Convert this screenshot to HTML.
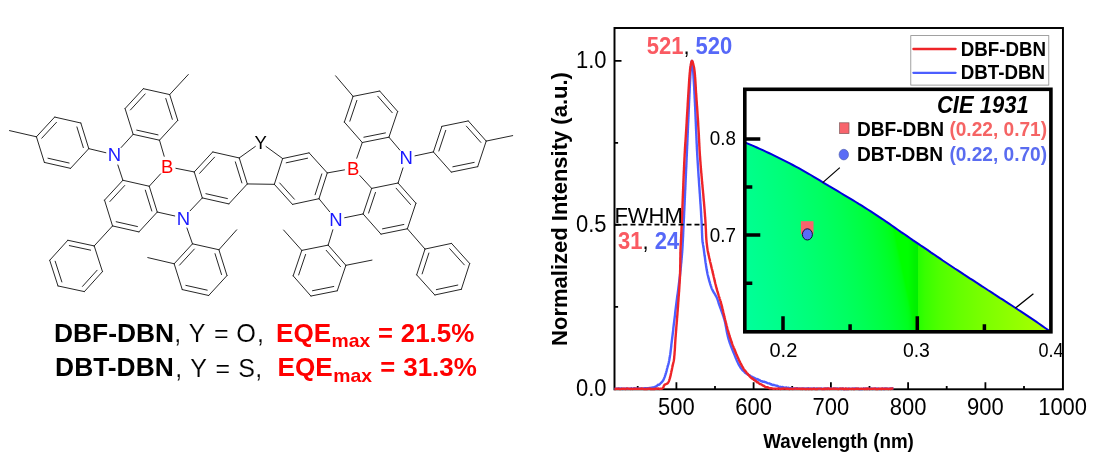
<!DOCTYPE html>
<html><head><meta charset="utf-8"><title>DBF-DBN / DBT-DBN</title>
<style>html,body{margin:0;padding:0;background:#fff}svg{display:block;will-change:transform}text{font-family:"Liberation Sans",sans-serif}</style></head><body>
<svg width="1094" height="464" viewBox="0 0 1094 464">
<rect width="1094" height="464" fill="#fff"/>
<g stroke="#222" stroke-width="0.98" stroke-linecap="round" fill="none">
<path d="M88.78 148.65L80.83 123.01"/>
<path d="M83.33 147.62L76.92 126.94"/>
<path d="M80.83 123.01L54.64 117.07"/>
<path d="M54.64 117.07L36.42 136.78"/>
<path d="M56.48 122.31L41.78 138.20"/>
<path d="M36.42 136.78L44.37 162.43"/>
<path d="M44.37 162.43L70.56 168.36"/>
<path d="M47.99 158.22L69.10 163.01"/>
<path d="M70.56 168.36L88.78 148.65"/>
<path d="M133.15 134.34L125.06 108.57"/>
<path d="M125.06 108.57L143.33 88.69"/>
<path d="M130.43 109.97L145.18 93.92"/>
<path d="M143.33 88.69L169.69 94.56"/>
<path d="M169.69 94.56L177.77 120.33"/>
<path d="M165.79 98.51L172.32 119.32"/>
<path d="M177.77 120.33L159.50 140.21"/>
<path d="M159.50 140.21L133.15 134.34"/>
<path d="M158.03 134.87L136.75 130.12"/>
<path d="M122.88 180.27L149.25 186.23"/>
<path d="M149.25 186.23L157.27 212.05"/>
<path d="M145.34 190.17L151.82 211.02"/>
<path d="M157.27 212.05L138.92 231.90"/>
<path d="M138.92 231.90L112.55 225.94"/>
<path d="M137.46 226.55L116.17 221.73"/>
<path d="M112.55 225.94L104.53 200.12"/>
<path d="M104.53 200.12L122.88 180.27"/>
<path d="M109.89 201.54L124.71 185.50"/>
<path d="M194.25 171.94L212.71 151.96"/>
<path d="M199.61 173.35L214.54 157.19"/>
<path d="M212.71 151.96L239.24 157.95"/>
<path d="M239.24 157.95L247.32 183.93"/>
<path d="M235.34 161.89L241.87 182.90"/>
<path d="M247.32 183.93L228.86 203.91"/>
<path d="M228.86 203.91L202.32 197.92"/>
<path d="M227.40 198.56L205.94 193.71"/>
<path d="M202.32 197.92L194.25 171.94"/>
<path d="M94.20 245.92L67.82 240.25"/>
<path d="M90.63 250.16L69.33 245.59"/>
<path d="M67.82 240.25L49.72 260.27"/>
<path d="M49.72 260.27L58.00 285.95"/>
<path d="M55.18 261.24L61.87 281.97"/>
<path d="M58.00 285.95L84.38 291.61"/>
<path d="M84.38 291.61L102.48 271.60"/>
<path d="M82.49 286.40L97.10 270.24"/>
<path d="M102.48 271.60L94.20 245.92"/>
<path d="M192.49 243.83L218.91 249.74"/>
<path d="M218.91 249.74L227.01 275.57"/>
<path d="M215.01 253.68L221.55 274.56"/>
<path d="M227.01 275.57L208.68 295.50"/>
<path d="M208.68 295.50L182.26 289.60"/>
<path d="M207.21 290.15L185.86 285.38"/>
<path d="M182.26 289.60L174.16 263.76"/>
<path d="M174.16 263.76L192.49 243.83"/>
<path d="M179.53 265.16L194.33 249.06"/>
<path d="M327.27 172.94L309.10 152.86"/>
<path d="M309.10 152.86L282.63 158.56"/>
<path d="M307.59 158.20L286.21 162.80"/>
<path d="M282.63 158.56L274.33 184.33"/>
<path d="M274.33 184.33L292.50 204.40"/>
<path d="M279.71 182.97L294.39 199.19"/>
<path d="M292.50 204.40L318.97 198.71"/>
<path d="M318.97 198.71L327.27 172.94"/>
<path d="M315.10 194.73L321.81 173.91"/>
<path d="M388.94 137.19L397.64 111.45"/>
<path d="M397.64 111.45L379.71 91.04"/>
<path d="M392.25 112.73L377.74 96.23"/>
<path d="M379.71 91.04L353.06 96.37"/>
<path d="M353.06 96.37L344.36 122.11"/>
<path d="M356.87 100.41L349.83 121.22"/>
<path d="M344.36 122.11L362.29 142.52"/>
<path d="M362.29 142.52L388.94 137.19"/>
<path d="M363.88 137.21L385.43 132.90"/>
<path d="M433.39 151.94L441.89 126.35"/>
<path d="M438.86 151.02L445.72 130.37"/>
<path d="M441.89 126.35L468.31 120.93"/>
<path d="M468.31 120.93L486.21 141.09"/>
<path d="M466.37 126.13L480.82 142.40"/>
<path d="M486.21 141.09L477.71 166.68"/>
<path d="M477.71 166.68L451.29 172.11"/>
<path d="M474.17 162.40L452.85 166.78"/>
<path d="M451.29 172.11L433.39 151.94"/>
<path d="M398.07 183.03L371.66 188.40"/>
<path d="M371.66 188.40L363.11 213.96"/>
<path d="M375.48 192.42L368.58 213.05"/>
<path d="M363.11 213.96L380.97 234.14"/>
<path d="M380.97 234.14L407.38 228.77"/>
<path d="M382.54 228.82L403.85 224.48"/>
<path d="M407.38 228.77L415.93 203.21"/>
<path d="M415.93 203.21L398.07 183.03"/>
<path d="M410.53 204.51L396.12 188.22"/>
<path d="M328.16 245.12L301.80 250.39"/>
<path d="M301.80 250.39L293.17 275.85"/>
<path d="M305.60 254.42L298.65 274.96"/>
<path d="M293.17 275.85L310.91 296.04"/>
<path d="M310.91 296.04L337.27 290.78"/>
<path d="M312.50 290.73L333.76 286.48"/>
<path d="M337.27 290.78L345.89 265.32"/>
<path d="M345.89 265.32L328.16 245.12"/>
<path d="M340.50 266.60L326.19 250.31"/>
<path d="M425.02 249.06L451.53 243.39"/>
<path d="M451.53 243.39L469.69 263.52"/>
<path d="M449.64 248.60L464.31 264.87"/>
<path d="M469.69 263.52L461.35 289.31"/>
<path d="M461.35 289.31L434.83 294.98"/>
<path d="M457.78 285.06L436.35 289.64"/>
<path d="M434.83 294.98L416.67 274.85"/>
<path d="M416.67 274.85L425.02 249.06"/>
<path d="M422.13 273.88L428.88 253.04"/>
<path d="M9.50 130.60L36.42 136.78"/>
<path d="M88.78 148.65L105.86 152.73"/>
<path d="M121.11 147.54L133.15 134.34"/>
<path d="M117.85 164.97L122.88 180.27"/>
<path d="M169.69 94.56L188.30 74.50"/>
<path d="M159.50 140.21L164.19 156.27"/>
<path d="M160.58 173.84L149.25 186.23"/>
<path d="M175.89 168.32L194.25 171.94"/>
<path d="M157.27 212.05L174.74 215.96"/>
<path d="M190.12 210.80L202.32 197.92"/>
<path d="M186.93 227.98L192.49 243.83"/>
<path d="M112.55 225.94L94.20 245.92"/>
<path d="M218.91 249.74L236.70 229.80"/>
<path d="M174.16 263.76L147.80 257.60"/>
<path d="M239.24 157.95L255.36 146.42"/>
<path d="M266.01 146.47L282.63 158.56"/>
<path d="M247.32 183.93L274.33 184.33"/>
<path d="M512.70 135.60L486.21 141.09"/>
<path d="M433.39 151.94L414.98 155.86"/>
<path d="M399.90 150.14L388.94 137.19"/>
<path d="M402.99 167.89L398.07 183.03"/>
<path d="M353.06 96.37L335.60 75.80"/>
<path d="M362.29 142.52L356.75 158.24"/>
<path d="M359.83 175.53L371.66 188.40"/>
<path d="M344.49 169.86L327.27 172.94"/>
<path d="M363.11 213.96L344.68 217.72"/>
<path d="M329.70 211.81L318.97 198.71"/>
<path d="M332.85 229.77L328.16 245.12"/>
<path d="M407.38 228.77L425.02 249.06"/>
<path d="M301.80 250.39L283.60 230.00"/>
<path d="M345.89 265.32L372.00 260.10"/>
</g>
<g font-size="18.5" text-anchor="middle">
<text x="114.5" y="161.4" fill="#1a1aff">N</text>
<text x="183.4" y="224.5" fill="#1a1aff">N</text>
<text x="406.3" y="164.3" fill="#1a1aff">N</text>
<text x="336.0" y="226.1" fill="#1a1aff">N</text>
<text x="167.2" y="173.2" fill="#ff0000">B</text>
<text x="353.2" y="174.9" fill="#ff0000">B</text>
<text x="260.7" y="149.2" fill="#000">Y</text>
</g>
<text x="54.0" y="341.7" font-size="25.6" font-weight="bold" textLength="120.1" lengthAdjust="spacingAndGlyphs">DBF-DBN</text>
<text x="174.2" y="342.2" font-size="25" stroke="#fff" stroke-width="0.15">,</text>
<text x="188.8" y="342.2" font-size="25" stroke="#fff" stroke-width="0.15">Y</text>
<text x="214.1" y="342.2" font-size="25" stroke="#fff" stroke-width="0.15">=</text>
<text x="236.2" y="342.2" font-size="25" textLength="19.64" lengthAdjust="spacingAndGlyphs" stroke="#fff" stroke-width="0.15">O</text>
<text x="257.1" y="342.2" font-size="25" stroke="#fff" stroke-width="0.15">,</text>
<text x="276.0" y="341.7" font-size="25.6" font-weight="bold" fill="#ff0000" textLength="55.14" lengthAdjust="spacingAndGlyphs">EQE</text>
<text x="331.6" y="347.0" font-size="18.6" font-weight="bold" fill="#ff0000" textLength="38.72" lengthAdjust="spacingAndGlyphs">max</text>
<text x="377.9" y="341.7" font-size="25.6" font-weight="bold" fill="#ff0000">=</text>
<text x="400.7" y="341.7" font-size="25.6" font-weight="bold" fill="#ff0000" textLength="73.68" lengthAdjust="spacingAndGlyphs">21.5%</text>
<text x="55.1" y="376.4" font-size="25.6" font-weight="bold" textLength="118.64" lengthAdjust="spacingAndGlyphs">DBT-DBN</text>
<text x="175.3" y="376.9" font-size="25" stroke="#fff" stroke-width="0.15">,</text>
<text x="190.3" y="376.9" font-size="25" stroke="#fff" stroke-width="0.15">Y</text>
<text x="215.6" y="376.9" font-size="25" stroke="#fff" stroke-width="0.15">=</text>
<text x="238.3" y="376.9" font-size="25" stroke="#fff" stroke-width="0.15">S</text>
<text x="255.3" y="376.9" font-size="25" stroke="#fff" stroke-width="0.15">,</text>
<text x="277.6" y="376.4" font-size="25.6" font-weight="bold" fill="#ff0000" textLength="55.14" lengthAdjust="spacingAndGlyphs">EQE</text>
<text x="333.2" y="382.0" font-size="18.6" font-weight="bold" fill="#ff0000" textLength="38.72" lengthAdjust="spacingAndGlyphs">max</text>
<text x="380.2" y="376.4" font-size="25.6" font-weight="bold" fill="#ff0000">=</text>
<text x="403.2" y="376.4" font-size="25.6" font-weight="bold" fill="#ff0000" textLength="73.68" lengthAdjust="spacingAndGlyphs">31.3%</text>
<rect x="614.5" y="28.0" width="448.45000000000005" height="361.3" fill="none" stroke="#000" stroke-width="1.95"/>
<path d="M614.5 388.8h7M614.5 224.8h7M614.5 60.8h7M614.5 306.8h3.6M614.5 142.8h3.6M676.4 389.3v-7M753.6 389.3v-7M830.9 389.3v-7M908.1 389.3v-7M985.4 389.3v-7M637.7 389.3v-3.2M715.0 389.3v-3.2M792.2 389.3v-3.2M869.5 389.3v-3.2M946.7 389.3v-3.2M1024.0 389.3v-3.2" stroke="#000" stroke-width="1.8" fill="none"/>
<path d="M614.5 388.5L615.3 388.7L616.1 388.6L616.9 388.8L617.7 388.8L618.5 388.4L619.3 388.4L620.1 388.9L620.9 388.5L621.7 388.5L622.5 389.0L623.3 388.7L624.1 388.9L624.9 388.6L625.7 388.8L626.5 388.4L627.3 388.7L628.1 388.9L628.9 388.7L629.7 388.8L630.5 388.7L631.3 388.3L632.1 388.8L632.9 388.7L633.7 388.4L634.5 388.2L635.3 388.8L636.1 388.5L636.9 388.7L637.7 388.8L638.5 388.7L639.3 388.8L640.1 388.4L640.9 388.7L641.7 388.4L642.5 388.7L643.3 388.7L644.1 388.1L644.9 388.1L645.7 388.1L646.5 388.6L647.3 388.2L648.1 388.3L648.9 388.0L649.7 388.0L650.5 387.9L651.3 387.7L652.0 387.7L652.8 387.5L653.6 387.5L654.4 387.0L655.1 386.9L655.9 386.6L656.6 385.9L657.4 385.4L658.1 384.7L658.8 384.8L659.5 384.5L660.2 383.7L660.8 383.2L661.3 382.7L661.9 382.1L662.4 381.4L662.9 380.8L663.3 380.1L663.7 379.4L664.0 378.7L664.3 377.9L664.6 377.2L664.9 376.4L665.1 375.7L665.4 374.9L665.6 374.1L665.8 373.4L666.1 372.6L666.3 371.8L666.5 371.1L666.7 370.3L666.9 369.5L667.1 368.7L667.3 368.0L667.5 367.2L667.7 366.4L667.9 365.6L668.2 364.9L668.4 364.1L668.6 363.3L668.8 362.5L668.9 361.8L669.1 361.0L669.3 360.2L669.4 359.4L669.5 358.6L669.7 357.8L669.8 357.1L669.9 356.3L670.0 355.5L670.2 354.7L670.3 353.9L670.4 353.1L670.5 352.3L670.6 351.5L670.7 350.7L670.8 349.9L670.9 349.1L671.0 348.3L671.1 347.5L671.2 346.7L671.3 346.0L671.3 345.2L671.4 344.4L671.5 343.6L671.6 342.8L671.7 342.0L671.8 341.2L671.9 340.4L672.0 339.6L672.1 338.8L672.2 338.0L672.3 337.2L672.4 336.4L672.5 335.6L672.6 334.8L672.7 334.0L672.8 333.2L672.9 332.4L673.0 331.6L673.1 330.8L673.2 330.1L673.3 329.3L673.3 328.5L673.4 327.7L673.5 326.9L673.6 326.1L673.7 325.3L673.8 324.5L673.9 323.7L674.0 322.9L674.1 322.1L674.2 321.3L674.3 320.5L674.4 319.7L674.5 318.9L674.6 318.1L674.7 317.3L674.8 316.5L674.9 315.8L675.0 315.0L675.1 314.2L675.1 313.4L675.2 312.6L675.3 311.8L675.4 311.0L675.5 310.2L675.6 309.4L675.7 308.6L675.8 307.8L675.9 307.0L676.0 306.2L676.1 305.4L676.2 304.6L676.3 303.8L676.4 303.0L676.5 302.3L676.6 301.5L676.7 300.7L676.8 299.9L676.9 299.1L677.0 298.3L677.1 297.5L677.2 296.7L677.3 295.9L677.4 295.1L677.6 294.3L677.7 293.5L677.8 292.7L677.9 291.9L678.0 291.1L678.1 290.4L678.2 289.6L678.3 288.8L678.4 288.0L678.5 287.2L678.6 286.4L678.7 285.6L678.8 284.8L678.9 284.0L679.0 283.2L679.1 282.4L679.2 281.6L679.3 280.8L679.4 280.0L679.5 279.2L679.6 278.4L679.7 277.7L679.8 276.9L679.9 276.1L680.0 275.3L680.1 274.5L680.2 273.7L680.2 272.9L680.3 272.1L680.4 271.3L680.5 270.5L680.6 269.7L680.6 268.9L680.7 268.1L680.8 267.3L680.9 266.5L681.0 265.7L681.0 264.9L681.1 264.1L681.2 263.3L681.3 262.5L681.4 261.7L681.4 260.9L681.5 260.1L681.6 259.4L681.6 258.6L681.7 257.8L681.8 257.0L681.8 256.2L681.9 255.4L682.0 254.6L682.0 253.8L682.1 253.0L682.2 252.2L682.2 251.4L682.3 250.6L682.3 249.8L682.4 249.0L682.4 248.2L682.5 247.4L682.5 246.6L682.6 245.8L682.6 245.0L682.6 244.2L682.7 243.4L682.7 242.6L682.8 241.8L682.8 241.0L682.9 240.2L682.9 239.4L682.9 238.6L683.0 237.8L683.0 237.0L683.1 236.2L683.1 235.4L683.1 234.6L683.2 233.8L683.2 233.0L683.2 232.2L683.3 231.4L683.3 230.6L683.3 229.8L683.4 229.0L683.4 228.2L683.5 227.4L683.5 226.6L683.5 225.8L683.6 225.0L683.6 224.2L683.6 223.4L683.7 222.6L683.7 221.8L683.8 221.0L683.8 220.2L683.8 219.4L683.9 218.6L683.9 217.8L684.0 217.0L684.0 216.2L684.0 215.4L684.1 214.6L684.1 213.8L684.1 213.0L684.2 212.2L684.2 211.4L684.3 210.6L684.3 209.8L684.3 209.0L684.4 208.2L684.4 207.4L684.4 206.6L684.5 205.8L684.5 205.0L684.6 204.2L684.6 203.4L684.6 202.6L684.7 201.8L684.7 201.0L684.7 200.2L684.8 199.4L684.8 198.6L684.9 197.8L684.9 197.0L684.9 196.2L685.0 195.4L685.0 194.6L685.0 193.8L685.1 193.0L685.1 192.2L685.1 191.4L685.2 190.6L685.2 189.9L685.3 189.1L685.3 188.3L685.3 187.5L685.4 186.7L685.4 185.9L685.4 185.1L685.5 184.3L685.5 183.5L685.5 182.7L685.6 181.9L685.6 181.1L685.6 180.3L685.7 179.5L685.7 178.7L685.8 177.9L685.8 177.1L685.8 176.3L685.9 175.5L685.9 174.7L685.9 173.9L686.0 173.1L686.0 172.3L686.0 171.5L686.1 170.7L686.1 169.9L686.1 169.1L686.2 168.3L686.2 167.5L686.3 166.7L686.3 165.9L686.3 165.1L686.4 164.3L686.4 163.5L686.4 162.7L686.5 161.9L686.5 161.1L686.5 160.3L686.6 159.5L686.6 158.7L686.6 157.9L686.7 157.1L686.7 156.3L686.8 155.5L686.8 154.7L686.8 153.9L686.9 153.1L686.9 152.3L686.9 151.5L687.0 150.7L687.0 149.9L687.0 149.1L687.1 148.3L687.1 147.5L687.1 146.7L687.2 145.9L687.2 145.1L687.3 144.3L687.3 143.5L687.3 142.7L687.4 141.9L687.4 141.1L687.4 140.3L687.5 139.5L687.5 138.7L687.5 137.9L687.6 137.1L687.6 136.3L687.6 135.5L687.7 134.7L687.7 133.9L687.7 133.1L687.8 132.3L687.8 131.5L687.8 130.7L687.9 129.9L687.9 129.1L687.9 128.3L688.0 127.5L688.0 126.7L688.0 125.9L688.1 125.1L688.1 124.3L688.1 123.5L688.2 122.7L688.2 121.9L688.3 121.1L688.3 120.3L688.3 119.5L688.4 118.7L688.4 117.9L688.4 117.1L688.5 116.3L688.5 115.5L688.5 114.7L688.6 113.9L688.6 113.1L688.6 112.3L688.7 111.5L688.7 110.7L688.7 109.9L688.8 109.1L688.8 108.3L688.9 107.5L688.9 106.7L688.9 105.9L689.0 105.1L689.0 104.3L689.0 103.5L689.1 102.7L689.1 101.9L689.1 101.1L689.2 100.3L689.2 99.5L689.3 98.7L689.3 97.9L689.3 97.1L689.4 96.3L689.4 95.5L689.4 94.7L689.5 93.9L689.5 93.1L689.6 92.3L689.6 91.5L689.6 90.7L689.7 89.9L689.7 89.1L689.7 88.4L689.8 87.6L689.8 86.8L689.8 86.0L689.9 85.2L689.9 84.4L690.0 83.6L690.0 82.8L690.0 82.0L690.1 81.2L690.1 80.4L690.2 79.6L690.2 78.8L690.3 78.0L690.3 77.2L690.3 76.4L690.4 75.6L690.4 74.8L690.5 74.0L690.5 73.2L690.6 72.4L690.6 71.6L690.7 70.8L690.7 70.0L690.8 69.2L690.8 68.4L690.9 67.6L690.9 66.8L691.0 66.0L691.1 65.2L691.1 64.4L691.2 63.6L691.3 62.8L691.5 61.8L691.7 61.0L691.9 60.9L692.1 61.6L692.3 62.6L692.5 63.5L692.6 64.2L692.7 65.0L692.7 65.8L692.8 66.6L692.9 67.4L692.9 68.2L693.0 69.0L693.1 69.8L693.1 70.6L693.2 71.4L693.2 72.2L693.3 73.0L693.3 73.8L693.4 74.6L693.4 75.4L693.5 76.2L693.5 77.0L693.6 77.8L693.6 78.6L693.7 79.4L693.7 80.2L693.8 81.0L693.8 81.8L693.9 82.6L693.9 83.4L694.0 84.2L694.0 85.0L694.1 85.8L694.1 86.6L694.2 87.4L694.2 88.2L694.2 89.0L694.3 89.8L694.3 90.6L694.4 91.4L694.4 92.2L694.4 93.0L694.5 93.8L694.5 94.6L694.6 95.4L694.6 96.2L694.6 97.0L694.7 97.8L694.7 98.6L694.8 99.4L694.8 100.2L694.8 101.0L694.9 101.8L694.9 102.6L695.0 103.4L695.0 104.2L695.0 105.0L695.1 105.8L695.1 106.6L695.2 107.4L695.2 108.2L695.2 109.0L695.3 109.8L695.3 110.6L695.3 111.4L695.4 112.2L695.4 113.0L695.4 113.8L695.5 114.6L695.5 115.4L695.5 116.2L695.6 117.0L695.6 117.8L695.6 118.6L695.7 119.4L695.7 120.2L695.7 121.0L695.8 121.8L695.8 122.6L695.8 123.4L695.9 124.2L695.9 125.0L695.9 125.8L696.0 126.6L696.0 127.4L696.0 128.2L696.1 129.0L696.1 129.8L696.1 130.6L696.2 131.4L696.2 132.2L696.2 133.0L696.3 133.8L696.3 134.6L696.3 135.3L696.4 136.1L696.4 136.9L696.4 137.7L696.5 138.5L696.5 139.3L696.5 140.1L696.6 140.9L696.6 141.7L696.6 142.5L696.7 143.3L696.7 144.1L696.8 144.9L696.8 145.7L696.8 146.5L696.9 147.3L696.9 148.1L696.9 148.9L697.0 149.7L697.0 150.5L697.1 151.3L697.1 152.1L697.2 152.9L697.2 153.7L697.2 154.5L697.3 155.3L697.3 156.1L697.4 156.9L697.4 157.7L697.5 158.5L697.5 159.3L697.6 160.1L697.6 160.9L697.7 161.7L697.7 162.5L697.8 163.3L697.8 164.1L697.9 164.9L697.9 165.7L698.0 166.5L698.0 167.3L698.1 168.1L698.1 168.9L698.2 169.7L698.2 170.5L698.3 171.3L698.3 172.1L698.4 172.9L698.4 173.7L698.5 174.5L698.5 175.3L698.6 176.1L698.6 176.9L698.7 177.7L698.8 178.5L698.8 179.3L698.9 180.1L698.9 180.9L699.0 181.7L699.0 182.5L699.1 183.3L699.1 184.1L699.2 184.9L699.2 185.7L699.3 186.5L699.4 187.3L699.4 188.1L699.5 188.9L699.5 189.7L699.6 190.5L699.6 191.2L699.7 192.0L699.7 192.8L699.8 193.6L699.9 194.4L699.9 195.2L700.0 196.0L700.0 196.8L700.1 197.6L700.1 198.4L700.2 199.2L700.2 200.0L700.3 200.8L700.3 201.6L700.4 202.4L700.4 203.2L700.5 204.0L700.6 204.8L700.6 205.6L700.7 206.4L700.7 207.2L700.8 208.0L700.8 208.8L700.9 209.6L700.9 210.4L701.0 211.2L701.0 212.0L701.1 212.8L701.1 213.6L701.1 214.4L701.2 215.2L701.2 216.0L701.3 216.8L701.3 217.6L701.4 218.4L701.4 219.2L701.5 220.0L701.5 220.8L701.6 221.6L701.6 222.4L701.6 223.2L701.7 224.0L701.7 224.8L701.8 225.6L701.8 226.4L701.8 227.2L701.9 228.0L701.9 228.8L701.9 229.6L701.9 230.4L702.0 231.2L702.0 232.0L702.0 232.8L702.1 233.6L702.1 234.4L702.1 235.2L702.2 236.0L702.2 236.8L702.2 237.6L702.3 238.4L702.3 239.2L702.4 240.0L702.5 240.8L702.5 241.6L702.6 242.3L702.8 243.1L702.9 243.9L703.0 244.7L703.2 245.5L703.3 246.3L703.4 247.1L703.6 247.9L703.7 248.7L703.8 249.5L703.9 250.3L704.0 251.0L704.1 251.8L704.2 252.6L704.3 253.4L704.4 254.2L704.5 255.0L704.6 255.8L704.8 256.6L704.9 257.4L705.0 258.2L705.1 259.0L705.2 259.8L705.3 260.6L705.4 261.4L705.5 262.2L705.6 263.0L705.8 263.7L705.9 264.5L706.0 265.3L706.1 266.1L706.2 266.9L706.4 267.7L706.5 268.5L706.6 269.3L706.8 270.1L706.9 270.8L707.1 271.6L707.2 272.4L707.4 273.2L707.5 274.0L707.7 274.8L707.9 275.5L708.1 276.3L708.3 277.1L708.5 277.9L708.7 278.7L708.9 279.4L709.1 280.2L709.3 281.0L709.5 281.8L709.8 282.5L710.0 283.3L710.2 284.1L710.5 284.8L710.7 285.6L711.0 286.3L711.3 287.1L711.5 287.8L711.8 288.6L712.1 289.3L712.5 290.0L712.8 290.7L713.2 291.4L713.6 292.1L714.0 292.8L714.5 293.5L714.9 294.2L715.3 294.9L715.7 295.6L716.1 296.3L716.5 297.0L716.8 297.7L717.1 298.4L717.4 299.2L717.7 299.9L717.9 300.7L718.2 301.5L718.4 302.2L718.6 303.0L718.9 303.8L719.1 304.5L719.4 305.3L719.7 306.0L719.9 306.8L720.2 307.5L720.5 308.3L720.8 309.0L721.0 309.8L721.3 310.5L721.6 311.3L721.9 312.1L722.1 312.8L722.4 313.6L722.7 314.3L722.9 315.1L723.2 315.8L723.5 316.6L723.7 317.3L723.9 318.1L724.2 318.9L724.4 319.6L724.6 320.4L724.8 321.2L725.0 322.0L725.2 322.7L725.3 323.5L725.5 324.3L725.6 325.1L725.8 325.9L725.9 326.7L726.1 327.4L726.2 328.2L726.4 329.0L726.5 329.8L726.6 330.6L726.8 331.4L726.9 332.2L727.1 333.0L727.3 333.8L727.4 334.5L727.6 335.3L727.8 336.1L728.0 336.9L728.2 337.6L728.4 338.4L728.6 339.2L728.8 339.9L729.1 340.7L729.3 341.5L729.6 342.2L729.8 343.0L730.1 343.7L730.4 344.5L730.6 345.2L730.9 346.0L731.2 346.7L731.5 347.5L731.8 348.2L732.1 349.0L732.4 349.7L732.7 350.5L733.0 351.2L733.3 352.0L733.6 352.7L733.9 353.4L734.2 354.2L734.5 354.9L734.8 355.7L735.1 356.4L735.4 357.2L735.7 358.0L736.1 358.7L736.4 359.5L736.7 360.2L737.0 361.0L737.4 361.7L737.7 362.5L738.1 363.2L738.4 363.9L738.8 364.7L739.2 365.4L739.6 366.0L740.0 366.7L740.4 367.4L740.8 368.0L741.3 368.6L741.7 369.2L742.2 369.8L742.7 370.3L743.3 370.9L743.9 371.4L744.5 372.0L745.1 372.8L745.8 373.0L746.4 373.6L747.1 373.8L747.8 374.7L748.5 374.9L749.2 375.1L749.8 375.4L750.5 376.3L751.2 376.8L751.9 376.6L752.6 377.4L753.3 377.5L754.0 377.7L754.8 378.1L755.5 378.8L756.2 379.2L757.0 378.9L757.7 379.6L758.5 379.5L759.2 380.3L760.0 380.3L760.7 381.0L761.5 381.3L762.3 381.3L763.0 381.9L763.7 381.7L764.5 381.8L765.3 382.4L766.0 382.3L766.8 382.7L767.5 383.1L768.3 383.4L769.1 383.4L769.8 383.5L770.6 384.3L771.4 384.2L772.1 384.8L772.9 385.0L773.7 384.8L774.5 385.1L775.2 385.3L776.0 385.6L776.8 385.7L777.6 385.9L778.4 386.6L779.1 387.0L779.9 386.8L780.7 386.9L781.5 387.3L782.3 387.0L783.1 387.2L783.9 387.8L784.7 387.6L785.5 387.7L786.3 387.4L787.0 387.8L787.8 388.0L788.6 387.7L789.4 388.3L790.2 388.3L791.0 388.0L791.8 388.5L792.6 388.4L793.4 388.6L794.2 388.4L795.0 388.7L795.8 388.7L796.6 388.2L797.4 388.2L798.2 388.7L799.0 388.9L799.8 388.4L800.6 388.6L801.4 388.7L802.2 388.5L803.0 388.5L803.8 388.5L804.6 388.6L805.4 388.7L806.2 388.5L807.0 388.6L807.8 388.9L808.6 388.3L809.4 388.7L810.2 388.9L811.0 388.6L811.8 388.5L812.6 388.9L813.4 388.5L814.2 388.5L815.0 388.7L815.8 388.8L816.6 388.4L817.4 388.6L818.2 388.6L819.0 388.9L819.8 388.7L820.6 388.9L821.4 388.5L822.2 388.6L823.0 388.8L823.8 389.0L824.6 388.7L825.4 388.5L826.2 388.4L827.0 388.7L827.8 388.5L828.6 388.9L829.4 388.9L830.2 388.5L831.0 388.5L831.8 388.9L832.6 388.8L833.4 388.9L834.2 388.6L835.0 388.4L835.8 388.6L836.6 388.9L837.4 388.5L838.2 388.6L839.0 388.6L839.8 388.6L840.6 388.6L841.4 389.0L842.2 388.5L843.0 388.4L843.8 389.0L844.6 389.0L845.4 389.0L846.2 388.7L847.0 389.0L847.8 389.0L848.6 388.5L849.4 388.9L850.2 388.9L851.0 388.8L851.8 388.7L852.6 388.6L853.4 388.6L854.2 388.5L855.0 388.4L855.8 388.8L856.6 388.6L857.4 388.9L858.2 388.4L859.0 389.0L859.8 388.8L860.6 389.0L861.4 389.0L862.2 389.0L863.0 388.8L863.8 388.4L864.6 388.9L865.4 388.5L866.2 388.6L867.0 388.8L867.8 388.7L868.6 388.6L869.4 389.0L870.2 388.8L871.0 388.6L871.8 388.5L872.6 389.0L873.4 388.7L874.2 388.9L875.0 388.6L875.8 388.5L876.6 388.7L877.4 388.9L878.2 388.5L879.0 388.9L879.8 389.0L880.6 388.9L881.4 388.9L882.2 388.4L883.0 388.8L883.8 389.0L884.6 388.4L885.4 388.5L886.2 388.5L887.0 388.7L887.8 388.6L888.6 388.7L889.4 388.9L890.2 388.4L891.0 388.4L891.8 388.4L892.6 388.4L893.4 388.4" fill="none" stroke="#4c5eff" stroke-width="2.4" stroke-linejoin="round"/>
<path d="M614.5 389.2L615.3 389.1L616.1 388.6L616.9 388.9L617.7 388.8L618.5 388.7L619.3 388.8L620.1 389.0L620.9 388.9L621.7 388.8L622.5 388.6L623.3 388.7L624.1 388.6L624.9 388.9L625.7 389.0L626.5 388.7L627.3 388.5L628.1 388.6L628.9 388.7L629.7 388.9L630.5 389.0L631.3 388.7L632.1 389.0L632.9 388.9L633.7 388.8L634.5 388.7L635.3 388.8L636.1 388.9L636.9 388.7L637.7 388.9L638.5 388.8L639.3 388.6L640.1 388.8L640.9 388.9L641.7 388.5L642.5 388.7L643.3 388.7L644.1 389.1L644.9 389.1L645.7 388.7L646.5 389.1L647.3 389.0L648.1 388.6L648.9 388.8L649.7 388.5L650.5 389.0L651.3 388.9L652.1 389.1L652.9 389.0L653.7 388.9L654.5 389.0L655.3 388.8L656.1 388.5L656.9 388.9L657.7 388.5L658.5 388.5L659.4 389.0L660.2 388.7L661.1 388.7L661.8 388.6L662.4 388.5L662.9 388.0L663.4 387.3L663.8 386.0L664.3 385.2L664.8 384.6L665.5 384.3L666.3 384.0L667.1 383.7L667.6 383.3L668.1 382.7L668.5 382.0L668.9 381.2L669.2 380.4L669.4 379.7L669.7 378.9L669.9 378.2L670.1 377.4L670.3 376.6L670.5 375.8L670.7 375.1L670.8 374.3L671.0 373.5L671.2 372.7L671.3 371.9L671.5 371.1L671.7 370.3L671.9 369.6L672.0 368.8L672.2 368.0L672.3 367.2L672.5 366.4L672.7 365.6L672.8 364.9L673.0 364.1L673.2 363.3L673.4 362.5L673.6 361.7L673.7 361.0L673.9 360.2L674.0 359.4L674.1 358.6L674.2 357.8L674.2 357.0L674.3 356.2L674.4 355.4L674.5 354.6L674.5 353.8L674.6 353.0L674.6 352.2L674.7 351.4L674.8 350.6L674.8 349.8L674.9 349.0L674.9 348.2L675.0 347.4L675.0 346.6L675.0 345.8L675.1 345.0L675.1 344.2L675.2 343.4L675.2 342.6L675.3 341.8L675.3 341.0L675.4 340.2L675.4 339.4L675.5 338.6L675.5 337.8L675.6 337.0L675.7 336.2L675.7 335.4L675.8 334.6L675.8 333.8L675.9 333.1L676.0 332.3L676.0 331.5L676.1 330.7L676.2 329.9L676.2 329.1L676.3 328.3L676.3 327.5L676.4 326.7L676.5 325.9L676.5 325.1L676.6 324.3L676.7 323.5L676.7 322.7L676.8 321.9L676.9 321.1L676.9 320.3L677.0 319.5L677.0 318.7L677.1 317.9L677.2 317.1L677.2 316.3L677.3 315.5L677.4 314.7L677.4 313.9L677.5 313.1L677.5 312.3L677.6 311.5L677.7 310.7L677.7 309.9L677.8 309.1L677.8 308.3L677.9 307.5L678.0 306.7L678.0 305.9L678.1 305.1L678.1 304.3L678.2 303.5L678.2 302.7L678.3 301.9L678.4 301.1L678.4 300.3L678.5 299.5L678.5 298.8L678.6 298.0L678.6 297.2L678.7 296.4L678.8 295.6L678.8 294.8L678.9 294.0L678.9 293.2L679.0 292.4L679.1 291.6L679.1 290.8L679.2 290.0L679.2 289.2L679.3 288.4L679.3 287.6L679.4 286.8L679.4 286.0L679.5 285.2L679.5 284.4L679.6 283.6L679.6 282.8L679.7 282.0L679.7 281.2L679.8 280.4L679.8 279.6L679.9 278.8L679.9 278.0L679.9 277.2L680.0 276.4L680.0 275.6L680.0 274.8L680.0 274.0L680.1 273.2L680.1 272.4L680.1 271.6L680.1 270.8L680.2 270.0L680.2 269.2L680.2 268.4L680.2 267.6L680.2 266.8L680.2 266.0L680.2 265.2L680.3 264.4L680.3 263.6L680.3 262.8L680.3 262.0L680.3 261.2L680.3 260.4L680.3 259.6L680.3 258.8L680.3 258.0L680.4 257.2L680.4 256.4L680.4 255.6L680.4 254.8L680.4 254.0L680.4 253.2L680.4 252.4L680.5 251.6L680.5 250.8L680.5 250.0L680.5 249.2L680.6 248.4L680.6 247.6L680.6 246.8L680.7 246.0L680.7 245.2L680.8 244.4L680.8 243.6L680.9 242.8L680.9 242.0L680.9 241.2L681.0 240.4L681.0 239.6L681.1 238.8L681.1 238.0L681.1 237.2L681.2 236.4L681.2 235.6L681.2 234.8L681.3 234.0L681.3 233.2L681.3 232.4L681.4 231.6L681.4 230.8L681.5 230.0L681.5 229.2L681.5 228.4L681.6 227.6L681.6 226.8L681.6 226.0L681.7 225.2L681.7 224.4L681.7 223.6L681.8 222.8L681.8 222.0L681.8 221.2L681.9 220.4L681.9 219.6L681.9 218.8L682.0 218.0L682.0 217.2L682.0 216.4L682.1 215.6L682.1 214.8L682.1 214.0L682.2 213.2L682.2 212.4L682.2 211.6L682.3 210.8L682.3 210.0L682.3 209.2L682.4 208.4L682.4 207.6L682.4 206.8L682.5 206.0L682.5 205.2L682.5 204.4L682.6 203.6L682.6 202.8L682.6 202.0L682.7 201.2L682.7 200.4L682.7 199.6L682.7 198.8L682.8 198.1L682.8 197.3L682.8 196.5L682.9 195.7L682.9 194.9L682.9 194.1L683.0 193.3L683.0 192.5L683.0 191.7L683.1 190.9L683.1 190.1L683.1 189.3L683.2 188.5L683.2 187.7L683.2 186.9L683.3 186.1L683.3 185.3L683.3 184.5L683.3 183.7L683.4 182.9L683.4 182.1L683.4 181.3L683.5 180.5L683.5 179.7L683.5 178.9L683.6 178.1L683.6 177.3L683.6 176.5L683.7 175.7L683.7 174.9L683.7 174.1L683.8 173.3L683.8 172.5L683.8 171.7L683.9 170.9L683.9 170.1L684.0 169.3L684.0 168.5L684.0 167.7L684.1 166.9L684.1 166.1L684.1 165.3L684.2 164.5L684.2 163.7L684.2 162.9L684.3 162.1L684.3 161.3L684.4 160.5L684.4 159.7L684.4 158.9L684.5 158.1L684.5 157.3L684.6 156.5L684.6 155.7L684.6 154.9L684.7 154.1L684.7 153.3L684.8 152.5L684.8 151.7L684.9 150.9L684.9 150.1L684.9 149.3L685.0 148.5L685.0 147.7L685.1 146.9L685.1 146.1L685.2 145.3L685.2 144.5L685.3 143.7L685.3 142.9L685.4 142.1L685.5 141.3L685.5 140.5L685.6 139.7L685.6 138.9L685.7 138.1L685.7 137.3L685.8 136.5L685.8 135.7L685.9 134.9L685.9 134.1L686.0 133.3L686.0 132.5L686.1 131.7L686.1 130.9L686.2 130.1L686.2 129.3L686.3 128.5L686.3 127.7L686.4 126.9L686.4 126.1L686.5 125.3L686.5 124.5L686.6 123.8L686.6 123.0L686.7 122.2L686.7 121.4L686.7 120.6L686.8 119.8L686.8 119.0L686.9 118.2L686.9 117.4L687.0 116.6L687.0 115.8L687.1 115.0L687.1 114.2L687.2 113.4L687.2 112.6L687.3 111.8L687.3 111.0L687.4 110.2L687.4 109.4L687.5 108.6L687.5 107.8L687.6 107.0L687.6 106.2L687.7 105.4L687.7 104.6L687.7 103.8L687.8 103.0L687.8 102.2L687.9 101.4L687.9 100.6L688.0 99.8L688.0 99.0L688.1 98.2L688.1 97.4L688.2 96.6L688.2 95.8L688.3 95.0L688.3 94.2L688.4 93.4L688.4 92.6L688.5 91.8L688.5 91.0L688.6 90.2L688.6 89.4L688.7 88.6L688.7 87.8L688.8 87.0L688.8 86.2L688.9 85.4L688.9 84.6L689.0 83.8L689.0 83.0L689.1 82.2L689.1 81.4L689.2 80.6L689.2 79.8L689.3 79.0L689.3 78.2L689.4 77.4L689.5 76.6L689.5 75.8L689.6 75.0L689.7 74.2L689.7 73.4L689.8 72.7L689.9 71.9L690.0 71.1L690.0 70.3L690.1 69.5L690.2 68.7L690.3 67.9L690.4 67.1L690.5 66.3L690.7 65.5L690.8 64.7L691.0 63.9L691.1 63.1L691.3 62.3L691.6 61.4L692.0 60.8L692.3 61.1L692.7 62.0L692.9 62.9L693.1 63.7L693.3 64.4L693.5 65.2L693.7 66.0L693.9 66.8L694.0 67.6L694.2 68.4L694.3 69.2L694.4 69.9L694.5 70.7L694.6 71.5L694.7 72.3L694.8 73.1L694.8 73.9L694.9 74.7L695.0 75.5L695.0 76.3L695.1 77.1L695.2 77.9L695.2 78.7L695.3 79.5L695.3 80.3L695.4 81.1L695.4 81.9L695.5 82.7L695.5 83.5L695.6 84.3L695.6 85.1L695.7 85.9L695.7 86.7L695.8 87.5L695.8 88.3L695.8 89.1L695.9 89.9L695.9 90.7L696.0 91.5L696.0 92.3L696.1 93.1L696.2 93.9L696.2 94.7L696.3 95.5L696.3 96.3L696.4 97.1L696.4 97.9L696.5 98.7L696.5 99.5L696.6 100.3L696.7 101.1L696.7 101.9L696.8 102.7L696.8 103.5L696.9 104.3L696.9 105.1L697.0 105.9L697.1 106.7L697.1 107.4L697.2 108.2L697.2 109.0L697.3 109.8L697.3 110.6L697.4 111.4L697.4 112.2L697.5 113.0L697.5 113.8L697.6 114.6L697.6 115.4L697.7 116.2L697.7 117.0L697.8 117.8L697.9 118.6L697.9 119.4L698.0 120.2L698.0 121.0L698.1 121.8L698.1 122.6L698.2 123.4L698.2 124.2L698.2 125.0L698.3 125.8L698.3 126.6L698.4 127.4L698.4 128.2L698.5 129.0L698.5 129.8L698.6 130.6L698.6 131.4L698.7 132.2L698.7 133.0L698.8 133.8L698.8 134.6L698.9 135.4L698.9 136.2L698.9 137.0L699.0 137.8L699.0 138.6L699.1 139.4L699.1 140.2L699.1 141.0L699.2 141.8L699.2 142.6L699.3 143.4L699.3 144.2L699.3 145.0L699.4 145.8L699.4 146.6L699.5 147.4L699.5 148.2L699.5 149.0L699.6 149.8L699.6 150.6L699.7 151.4L699.7 152.2L699.8 153.0L699.8 153.8L699.9 154.6L699.9 155.4L700.0 156.2L700.1 157.0L700.1 157.8L700.2 158.6L700.2 159.4L700.3 160.1L700.3 160.9L700.4 161.7L700.5 162.5L700.5 163.3L700.6 164.1L700.6 164.9L700.7 165.7L700.8 166.5L700.8 167.3L700.9 168.1L701.0 168.9L701.0 169.7L701.1 170.5L701.2 171.3L701.2 172.1L701.3 172.9L701.4 173.7L701.5 174.5L701.5 175.3L701.6 176.1L701.7 176.9L701.7 177.7L701.8 178.5L701.9 179.3L701.9 180.1L702.0 180.9L702.1 181.7L702.2 182.5L702.2 183.3L702.3 184.1L702.4 184.9L702.5 185.7L702.5 186.5L702.6 187.3L702.7 188.1L702.7 188.8L702.8 189.6L702.9 190.4L703.0 191.2L703.0 192.0L703.1 192.8L703.2 193.6L703.3 194.4L703.3 195.2L703.4 196.0L703.5 196.8L703.5 197.6L703.6 198.4L703.7 199.2L703.7 200.0L703.8 200.8L703.9 201.6L704.0 202.4L704.0 203.2L704.1 204.0L704.2 204.8L704.2 205.6L704.3 206.4L704.4 207.2L704.4 208.0L704.5 208.8L704.6 209.6L704.6 210.4L704.7 211.2L704.7 212.0L704.8 212.8L704.9 213.6L704.9 214.4L705.0 215.2L705.0 216.0L705.1 216.8L705.2 217.5L705.2 218.3L705.3 219.1L705.3 219.9L705.4 220.7L705.4 221.5L705.5 222.3L705.5 223.1L705.6 223.9L705.6 224.7L705.7 225.5L705.7 226.3L705.7 227.1L705.8 227.9L705.8 228.7L705.9 229.5L705.9 230.3L705.9 231.1L706.0 231.9L706.0 232.7L706.0 233.5L706.1 234.3L706.1 235.1L706.1 235.9L706.2 236.7L706.2 237.5L706.3 238.3L706.3 239.1L706.4 239.9L706.5 240.7L706.5 241.5L706.6 242.3L706.7 243.1L706.8 243.9L706.9 244.7L707.0 245.5L707.1 246.3L707.2 247.1L707.3 247.9L707.4 248.7L707.5 249.4L707.6 250.2L707.8 251.0L707.9 251.8L708.1 252.6L708.3 253.4L708.4 254.2L708.6 254.9L708.8 255.7L709.0 256.5L709.1 257.3L709.3 258.1L709.5 258.8L709.7 259.6L709.9 260.4L710.0 261.2L710.2 262.0L710.4 262.7L710.6 263.5L710.8 264.3L711.0 265.1L711.1 265.8L711.3 266.6L711.5 267.4L711.7 268.2L711.9 269.0L712.1 269.7L712.3 270.5L712.5 271.3L712.6 272.1L712.8 272.8L713.0 273.6L713.2 274.4L713.4 275.2L713.6 276.0L713.7 276.7L713.9 277.5L714.1 278.3L714.3 279.1L714.5 279.9L714.6 280.6L714.8 281.4L715.0 282.2L715.2 283.0L715.4 283.8L715.6 284.5L715.8 285.3L716.0 286.1L716.2 286.9L716.4 287.6L716.6 288.4L716.8 289.2L717.0 289.9L717.2 290.7L717.4 291.5L717.7 292.2L717.9 293.0L718.2 293.8L718.4 294.5L718.6 295.3L718.9 296.1L719.1 296.8L719.4 297.6L719.6 298.4L719.8 299.1L720.1 299.9L720.3 300.6L720.6 301.4L720.8 302.2L721.0 302.9L721.2 303.7L721.4 304.5L721.6 305.3L721.9 306.0L722.0 306.8L722.2 307.6L722.4 308.4L722.6 309.1L722.8 309.9L723.0 310.7L723.2 311.5L723.4 312.2L723.5 313.0L723.7 313.8L723.9 314.6L724.1 315.4L724.3 316.1L724.4 316.9L724.6 317.7L724.8 318.5L725.0 319.3L725.2 320.0L725.4 320.8L725.6 321.6L725.8 322.4L726.0 323.1L726.2 323.9L726.4 324.7L726.6 325.5L726.8 326.2L727.0 327.0L727.2 327.8L727.4 328.6L727.6 329.3L727.9 330.1L728.1 330.9L728.3 331.6L728.5 332.4L728.7 333.2L729.0 333.9L729.2 334.7L729.4 335.5L729.7 336.2L729.9 337.0L730.1 337.8L730.4 338.5L730.6 339.3L730.9 340.0L731.2 340.8L731.4 341.5L731.7 342.3L732.0 343.1L732.2 343.8L732.5 344.6L732.8 345.3L733.1 346.1L733.4 346.8L733.7 347.6L734.0 348.3L734.3 349.0L734.6 349.8L734.9 350.5L735.2 351.3L735.5 352.0L735.8 352.7L736.1 353.5L736.4 354.2L736.7 354.9L737.1 355.7L737.4 356.4L737.7 357.1L738.0 357.9L738.4 358.6L738.7 359.4L739.0 360.1L739.4 360.8L739.7 361.6L740.1 362.3L740.4 363.0L740.8 363.7L741.2 364.4L741.5 365.1L741.9 365.8L742.3 366.5L742.7 367.2L743.1 367.9L743.5 368.6L743.9 369.2L744.4 369.9L744.8 370.5L745.3 370.9L745.8 371.5L746.3 372.2L746.8 373.4L747.3 373.5L747.9 374.0L748.4 375.1L749.0 375.2L749.5 376.3L750.1 376.7L750.7 377.4L751.3 378.0L751.9 378.2L752.5 378.9L753.2 378.8L753.8 379.8L754.5 380.1L755.1 380.7L755.8 380.8L756.4 381.7L757.1 382.3L757.7 382.1L758.4 382.8L759.1 383.4L759.7 384.0L760.4 384.0L761.1 384.3L761.8 384.7L762.5 385.3L763.3 385.8L764.0 385.8L764.8 386.6L765.5 386.9L766.3 387.1L767.1 387.4L767.8 387.3L768.6 387.8L769.4 388.3L770.2 388.1L771.0 388.5L771.8 388.2L772.6 388.6L773.4 388.7L774.1 388.7L774.9 388.6L775.7 388.6L776.5 388.7L777.3 388.9L778.1 388.4L778.9 388.4L779.7 388.9L780.5 389.0L781.3 388.7L782.1 388.7L782.9 388.9L783.7 388.5L784.5 388.6L785.3 388.6L786.1 388.8L787.0 388.7L787.8 388.6L788.6 388.9L789.4 389.1L790.2 388.7L791.0 388.9L791.8 388.7L792.6 389.0L793.4 388.9L794.2 388.6L795.0 388.6L795.8 388.5L796.6 388.8L797.4 388.7L798.2 388.6L799.0 388.7L799.8 388.7L800.6 389.0L801.4 388.6L802.2 389.1L803.0 388.8L803.8 388.9L804.6 388.8L805.4 389.0L806.2 389.0L807.0 388.8L807.8 388.8L808.6 389.0L809.4 389.0L810.2 388.7L811.0 389.0L811.8 389.1L812.6 388.8L813.4 388.6L814.2 388.6L815.0 389.0L815.8 388.9L816.6 389.1L817.4 389.0L818.2 388.6L819.0 388.6L819.8 388.6L820.6 388.6L821.4 388.9L822.2 389.1L823.0 389.1L823.8 388.6L824.6 389.1L825.4 388.7L826.2 388.7L827.0 389.0L827.8 388.5L828.6 388.5L829.4 389.0L830.2 388.7L831.0 388.7L831.8 388.9L832.6 388.9L833.4 388.5L834.2 388.7L835.0 388.8L835.8 388.8L836.6 388.6L837.4 388.9L838.2 389.1L839.0 388.7L839.8 388.8L840.6 388.5L841.4 388.6L842.2 388.9L843.0 388.5L843.8 389.1L844.6 389.1L845.4 388.5L846.2 389.1L847.0 388.7L847.8 389.0L848.6 389.0L849.4 388.7L850.2 388.9L851.0 388.9L851.8 389.0L852.6 388.6L853.4 389.0L854.2 389.1L855.0 388.9L855.8 388.8L856.6 388.5L857.4 388.8L858.2 388.7L859.0 389.0L859.8 388.9L860.6 388.8L861.4 388.6L862.2 388.9L863.0 388.9L863.8 388.6L864.6 389.1L865.4 388.9L866.2 388.5L867.0 389.1L867.8 388.5L868.6 388.7L869.4 389.0L870.2 388.9L871.0 388.8L871.8 388.9L872.6 388.8L873.4 388.7L874.2 388.6L875.0 388.5L875.8 389.0L876.6 389.0L877.4 388.8L878.2 389.0L879.0 388.7L879.8 388.6L880.6 388.7L881.4 389.1L882.2 388.5L883.0 388.8L883.8 388.6L884.6 389.0L885.4 388.7L886.2 388.7L887.0 388.7L887.8 388.8L888.6 389.0L889.4 388.7L890.2 389.0L891.0 388.5L891.8 388.6L892.6 388.5L893.4 388.5" fill="none" stroke="#ee2428" stroke-width="2.4" stroke-linejoin="round"/>
<text x="606.6" y="396.0" font-size="24.4" text-anchor="end" textLength="30.53" lengthAdjust="spacingAndGlyphs">0.0</text>
<text x="606.6" y="232.0" font-size="24.4" text-anchor="end" textLength="30.53" lengthAdjust="spacingAndGlyphs">0.5</text>
<text x="606.6" y="68.0" font-size="24.4" text-anchor="end" textLength="30.53" lengthAdjust="spacingAndGlyphs">1.0</text>
<text x="676.4" y="415.1" font-size="24.0" text-anchor="middle" textLength="36.64" lengthAdjust="spacingAndGlyphs">500</text>
<text x="753.6" y="415.1" font-size="24.0" text-anchor="middle" textLength="36.64" lengthAdjust="spacingAndGlyphs">600</text>
<text x="830.9" y="415.1" font-size="24.0" text-anchor="middle" textLength="36.64" lengthAdjust="spacingAndGlyphs">700</text>
<text x="908.1" y="415.1" font-size="24.0" text-anchor="middle" textLength="36.64" lengthAdjust="spacingAndGlyphs">800</text>
<text x="985.4" y="415.1" font-size="24.0" text-anchor="middle" textLength="36.64" lengthAdjust="spacingAndGlyphs">900</text>
<text x="1062.6" y="415.1" font-size="24.0" text-anchor="middle" textLength="48.85" lengthAdjust="spacingAndGlyphs">1000</text>
<text x="838.6" y="447.9" font-size="19.9" font-weight="bold" text-anchor="middle" textLength="150.47" lengthAdjust="spacingAndGlyphs">Wavelength (nm)</text>
<text transform="translate(567.2 209.0) rotate(-90)" font-size="22" font-weight="bold" text-anchor="middle">Normalized Intensity (a.u.)</text>
<text x="646.8" y="53.6" font-size="23.8" font-weight="bold" fill="#fa5a62" textLength="36.73" lengthAdjust="spacingAndGlyphs">521</text>
<text x="683.6" y="53.6" font-size="23.8" textLength="6.12" lengthAdjust="spacingAndGlyphs">,</text>
<text x="695.6" y="53.6" font-size="23.8" font-weight="bold" fill="#5668f8" textLength="36.73" lengthAdjust="spacingAndGlyphs">520</text>
<path d="M614.5 224.6H704.5" stroke="#000" stroke-width="1.6" stroke-dasharray="5 3" fill="none"/>
<text x="614.4" y="222.5" font-size="22.9" textLength="68.37" lengthAdjust="spacingAndGlyphs">FWHM</text>
<text x="618.0" y="249.1" font-size="23.4" font-weight="bold" fill="#fa5a62" textLength="24.47" lengthAdjust="spacingAndGlyphs">31</text>
<text x="642.5" y="249.1" font-size="23.4" textLength="6.11" lengthAdjust="spacingAndGlyphs">,</text>
<text x="654.7" y="249.1" font-size="23.4" font-weight="bold" fill="#5668f8" textLength="24.47" lengthAdjust="spacingAndGlyphs">24</text>
<rect x="910.8" y="35.6" width="138" height="49.5" fill="#fff" stroke="#8a8a8a" stroke-width="0.8"/>
<path d="M913.4 49.0H955.6" stroke="#ee2428" stroke-width="2.3" stroke-linecap="round"/>
<path d="M913.4 72.8H955.6" stroke="#4c5eff" stroke-width="2.3" stroke-linecap="round"/>
<text x="960.7" y="56.0" font-size="19.5" font-weight="bold" textLength="85.44" lengthAdjust="spacingAndGlyphs">DBF-DBN</text>
<text x="960.7" y="79.3" font-size="19.5" font-weight="bold" textLength="84.41" lengthAdjust="spacingAndGlyphs">DBT-DBN</text>
<defs>
<linearGradient id="gr" gradientUnits="userSpaceOnUse" x1="744.8" y1="0" x2="1050.9" y2="0">
<stop offset="0.0000" stop-color="#00ff00"/>
<stop offset="0.5332" stop-color="#00ff00"/>
<stop offset="0.5544" stop-color="#00f200"/>
<stop offset="0.5642" stop-color="#00f000"/>
<stop offset="0.5658" stop-color="#24ff00"/>
<stop offset="0.5887" stop-color="#38ff00"/>
<stop offset="0.6377" stop-color="#50ff00"/>
<stop offset="0.7030" stop-color="#66ff00"/>
<stop offset="0.7782" stop-color="#7aff00"/>
<stop offset="0.8827" stop-color="#92ff00"/>
<stop offset="0.9873" stop-color="#aaff00"/>
<stop offset="1.0000" stop-color="#aaff00"/>
</linearGradient>
<linearGradient id="gb" gradientUnits="userSpaceOnUse" x1="750" y1="325" x2="907.4" y2="291.2">
<stop offset="0.000" stop-color="#000099"/>
<stop offset="0.100" stop-color="#000091"/>
<stop offset="0.200" stop-color="#000089"/>
<stop offset="0.300" stop-color="#000080"/>
<stop offset="0.400" stop-color="#000077"/>
<stop offset="0.500" stop-color="#00006c"/>
<stop offset="0.600" stop-color="#000061"/>
<stop offset="0.700" stop-color="#000054"/>
<stop offset="0.800" stop-color="#000044"/>
<stop offset="0.860" stop-color="#000039"/>
<stop offset="0.920" stop-color="#00002b"/>
<stop offset="0.960" stop-color="#00001f"/>
<stop offset="0.985" stop-color="#000013"/>
<stop offset="1.000" stop-color="#000000"/>
</linearGradient>
<clipPath id="cl"><path d="M744.8 142.4L747.8 143.6L750.8 144.9L753.8 146.2L756.8 147.5L759.8 148.8L762.8 150.2L765.8 151.6L768.8 153.0L771.8 154.4L774.8 155.8L777.8 157.3L780.8 158.8L783.8 160.3L786.8 161.8L789.8 163.4L792.8 165.0L795.8 166.6L798.8 168.2L801.8 169.9L804.8 171.6L807.8 173.3L810.8 175.0L813.8 176.8L816.8 178.6L819.8 180.4L822.8 182.3L825.8 184.1L828.8 185.9L831.8 187.6L834.8 189.4L837.8 191.2L840.8 193.0L843.8 194.8L846.8 196.6L849.8 198.4L852.8 200.2L855.8 202.0L858.8 203.9L861.8 205.7L864.8 207.6L867.8 209.5L870.8 211.4L873.8 213.3L876.8 215.3L879.8 217.3L882.8 219.3L885.8 221.4L888.8 223.4L891.8 225.5L894.8 227.6L897.8 229.7L900.8 231.8L903.8 233.8L906.8 235.9L909.8 238.0L912.8 240.1L915.8 242.1L918.8 244.1L921.8 246.2L924.8 248.2L927.8 250.2L930.8 252.3L933.8 254.3L936.8 256.4L939.8 258.4L942.8 260.5L945.8 262.5L948.8 264.5L951.8 266.5L954.8 268.5L957.8 270.4L960.8 272.4L963.8 274.4L966.8 276.3L969.8 278.3L972.8 280.2L975.8 282.2L978.8 284.1L981.8 286.1L984.8 288.0L987.8 290.0L990.8 291.9L993.8 293.9L996.8 295.8L999.8 297.8L1002.8 299.7L1005.8 301.7L1008.8 303.6L1011.8 305.5L1014.8 307.5L1017.8 309.5L1020.8 311.4L1023.8 313.4L1026.8 315.4L1029.8 317.4L1032.8 319.4L1035.8 321.4L1038.8 323.5L1041.8 325.6L1044.8 327.7L1047.8 329.8L1049.5 331.0L1049.5 331.8L744.8 331.8Z"/></clipPath>
</defs>
<g clip-path="url(#cl)"><rect x="744.8" y="89" width="306.2" height="243" fill="url(#gr)"/><rect x="744.8" y="89" width="306.2" height="243" fill="url(#gb)" style="mix-blend-mode:screen"/></g>
<path d="M744.8 142.4L747.8 143.6L750.8 144.9L753.8 146.2L756.8 147.5L759.8 148.8L762.8 150.2L765.8 151.6L768.8 153.0L771.8 154.4L774.8 155.8L777.8 157.3L780.8 158.8L783.8 160.3L786.8 161.8L789.8 163.4L792.8 165.0L795.8 166.6L798.8 168.2L801.8 169.9L804.8 171.6L807.8 173.3L810.8 175.0L813.8 176.8L816.8 178.6L819.8 180.4L822.8 182.3L825.8 184.1L828.8 185.9L831.8 187.6L834.8 189.4L837.8 191.2L840.8 193.0L843.8 194.8L846.8 196.6L849.8 198.4L852.8 200.2L855.8 202.0L858.8 203.9L861.8 205.7L864.8 207.6L867.8 209.5L870.8 211.4L873.8 213.3L876.8 215.3L879.8 217.3L882.8 219.3L885.8 221.4L888.8 223.4L891.8 225.5L894.8 227.6L897.8 229.7L900.8 231.8L903.8 233.8L906.8 235.9L909.8 238.0L912.8 240.1L915.8 242.1L918.8 244.1L921.8 246.2L924.8 248.2L927.8 250.2L930.8 252.3L933.8 254.3L936.8 256.4L939.8 258.4L942.8 260.5L945.8 262.5L948.8 264.5L951.8 266.5L954.8 268.5L957.8 270.4L960.8 272.4L963.8 274.4L966.8 276.3L969.8 278.3L972.8 280.2L975.8 282.2L978.8 284.1L981.8 286.1L984.8 288.0L987.8 290.0L990.8 291.9L993.8 293.9L996.8 295.8L999.8 297.8L1002.8 299.7L1005.8 301.7L1008.8 303.6L1011.8 305.5L1014.8 307.5L1017.8 309.5L1020.8 311.4L1023.8 313.4L1026.8 315.4L1029.8 317.4L1032.8 319.4L1035.8 321.4L1038.8 323.5L1041.8 325.6L1044.8 327.7L1047.8 329.8L1049.5 331.0" fill="none" stroke="#0000dc" stroke-width="2"/>
<path d="M839.8 167.6L822.7 182.6M1033.4 293.8L1015.4 308.1" stroke="#000" stroke-width="1.25" fill="none"/>
<rect x="800.9" y="221.2" width="12.6" height="13" fill="#f8646c"/>
<ellipse cx="807.4" cy="234.4" rx="5.0" ry="5.6" fill="#5a6cf6" stroke="#101030" stroke-width="1"/>
<path d="M744.8 235.1h15.5M744.8 138.9h15.5M744.8 283.2h7.5M744.8 187.0h7.5M783.0 331.8v-15.5M917.3 331.8v-15.5M850.1 331.8v-7.5M984.4 331.8v-7.5" stroke="#000" stroke-width="3.5" fill="none"/>
<rect x="744.8" y="89.3" width="306.1" height="242.5" fill="none" stroke="#000" stroke-width="3.6"/>
<text x="736.0" y="145.2" font-size="19.4" text-anchor="end" textLength="26.16" lengthAdjust="spacingAndGlyphs">0.8</text>
<text x="736.0" y="241.9" font-size="19.4" text-anchor="end" textLength="26.16" lengthAdjust="spacingAndGlyphs">0.7</text>
<text x="783.4" y="356.9" font-size="19.4" text-anchor="middle" textLength="27.78" lengthAdjust="spacingAndGlyphs">0.2</text>
<text x="916.4" y="356.9" font-size="19.4" text-anchor="middle" textLength="26.97" lengthAdjust="spacingAndGlyphs">0.3</text>
<text x="1038.4" y="356.9" font-size="19.4" textLength="25.08" lengthAdjust="spacingAndGlyphs">0.4</text>
<text x="937.0" y="112.9" font-size="24.5" font-weight="bold" font-style="italic" textLength="91.63" lengthAdjust="spacingAndGlyphs">CIE 1931</text>
<rect x="839.6" y="122.8" width="9.4" height="10.8" fill="#f8646c" stroke="#80585a" stroke-width="0.7"/>
<ellipse cx="843.8" cy="154.6" rx="4.7" ry="5.3" fill="#5a6cf6" stroke="#5060b0" stroke-width="0.7"/>
<text x="856.9" y="135.6" font-size="19.7" font-weight="bold" textLength="87.22" lengthAdjust="spacingAndGlyphs">DBF-DBN</text>
<text x="856.9" y="160.6" font-size="19.7" font-weight="bold" textLength="86.16" lengthAdjust="spacingAndGlyphs">DBT-DBN</text>
<text x="949.4" y="135.5" font-size="19.7" font-weight="bold" fill="#f56464" textLength="97.63" lengthAdjust="spacingAndGlyphs">(0.22, 0.71)</text>
<text x="949.4" y="160.5" font-size="19.7" font-weight="bold" fill="#5a6cf0" textLength="97.63" lengthAdjust="spacingAndGlyphs">(0.22, 0.70)</text>
</svg></body></html>
